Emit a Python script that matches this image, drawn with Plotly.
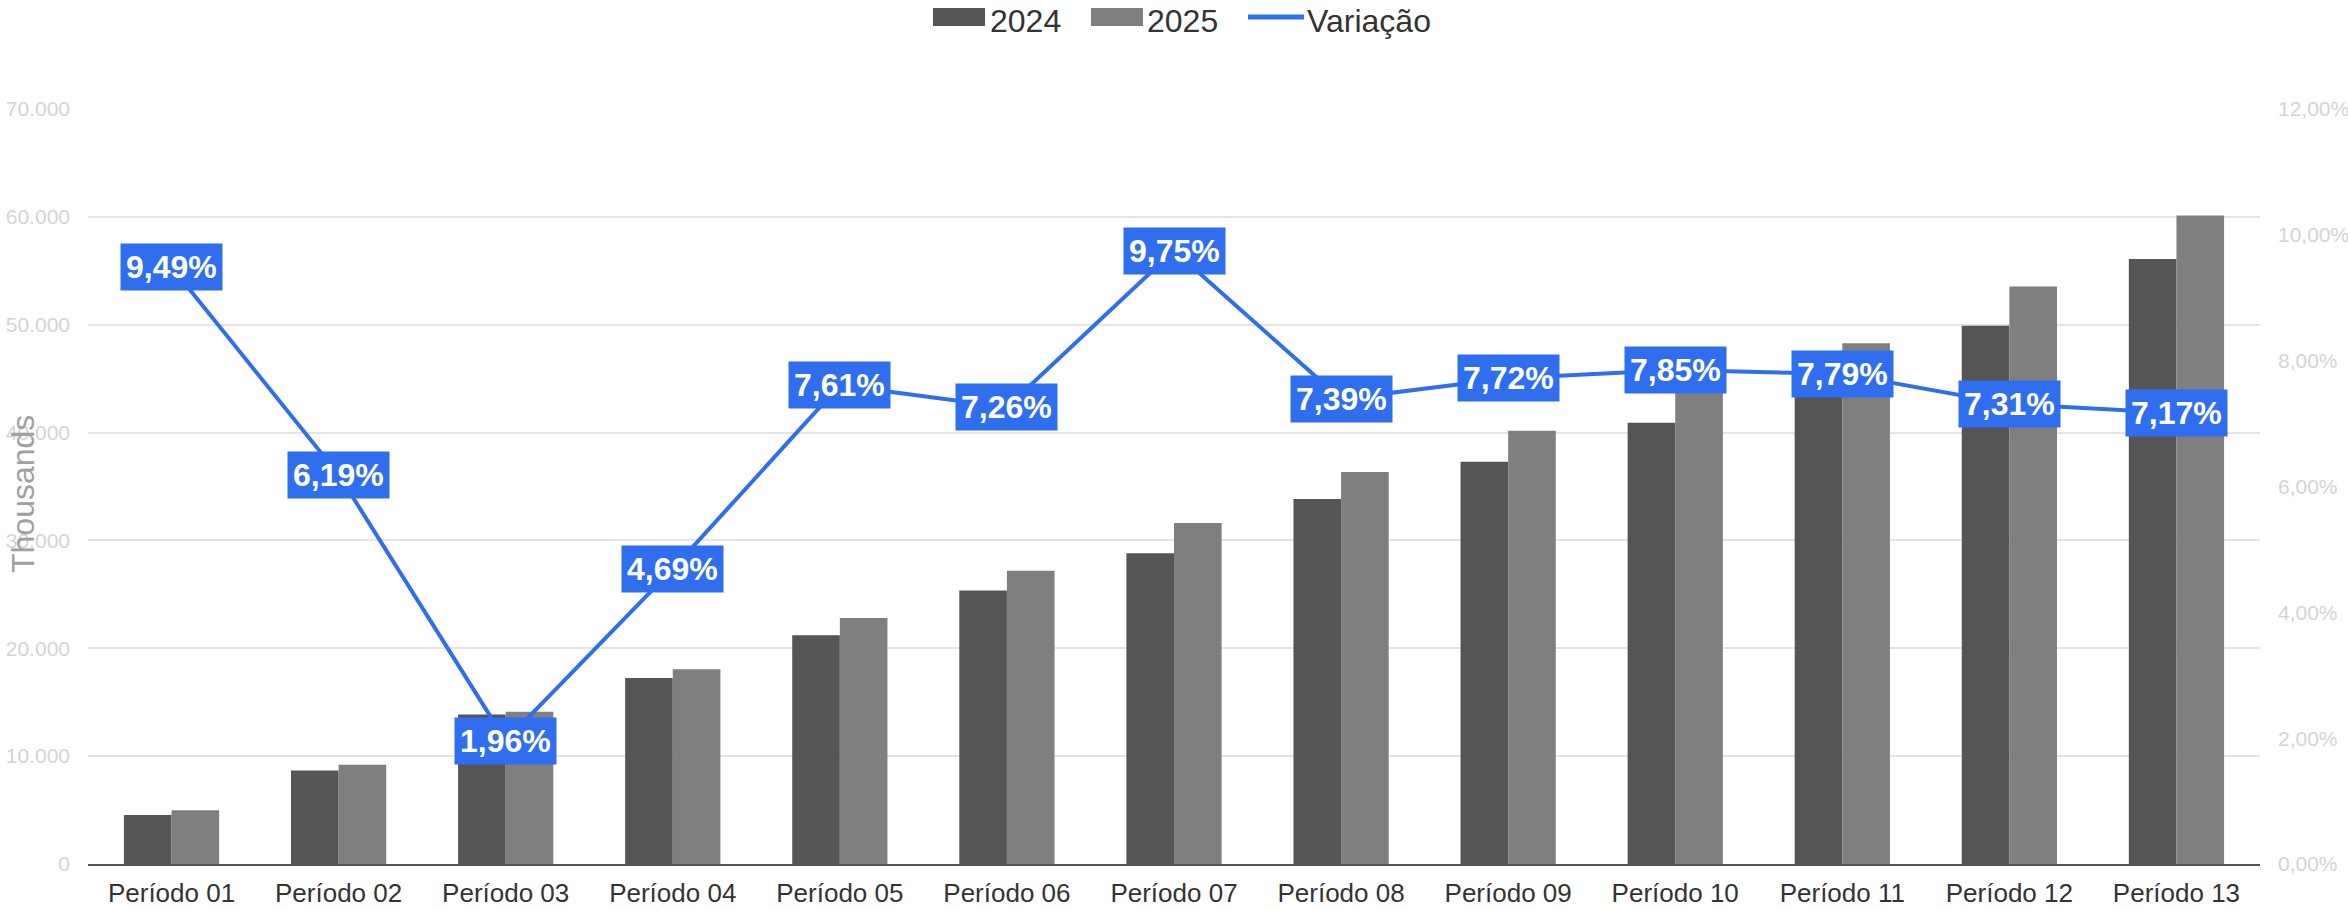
import plotly.graph_objects as go

# ── Data ──────────────────────────────────────────────────────────────────────
periods = [f"Período {i:02d}" for i in range(1, 14)]
values_2024 = [4550, 8670, 13850, 17250, 21200, 25350, 28800, 33850, 37300, 40900, 44800, 49900, 56100]
values_2025 = [4980, 9210, 14120, 18060, 22810, 27190, 31610, 36350, 40180, 44110, 48290, 53550, 60120]
variacao = [0.0949, 0.0619, 0.0196, 0.0469, 0.0761, 0.0726, 0.0975, 0.0739, 0.0772, 0.0785, 0.0779, 0.0731, 0.0717]
var_labels = ["9,49%", "6,19%", "1,96%", "4,69%", "7,61%", "7,26%", "9,75%", "7,39%",
              "7,72%", "7,85%", "7,79%", "7,31%", "7,17%"]

C24, C25, BLUE = "#555555", "#7f7f7f", "#2f6fef"
FONT = "Liberation Sans, Arial, sans-serif"
W, H = 2348, 911
M = dict(l=88, r=88, t=109, b=47)


def px(x):
    return (x - M["l"]) / (W - M["l"] - M["r"])


def py(y):
    return (H - M["b"] - y) / (H - M["t"] - M["b"])


fig = go.Figure()
fig.add_trace(go.Bar(x=periods, y=values_2024, name="2024", marker=dict(color=C24, line_width=0)))
fig.add_trace(go.Bar(x=periods, y=values_2025, name="2025", marker=dict(color=C25, line_width=0)))
fig.add_trace(go.Scatter(x=periods, y=variacao, name="Variação", mode="lines", yaxis="y2",
                         line=dict(color=BLUE, width=4)))

# value labels on the line
for p, v, t in zip(periods, variacao, var_labels):
    fig.add_annotation(x=p, y=v, xref="x", yref="y2", text=f"<b>{t}</b>", showarrow=False,
                       font=dict(family=FONT, size=32, color="white"),
                       bgcolor=BLUE, borderpad=5)

# ── Custom legend ─────────────────────────────────────────────────────────────
for x0, x1, c in [(933, 985, C24), (1091, 1143, C25)]:
    fig.add_shape(type="rect", xref="paper", yref="paper", x0=px(x0), x1=px(x1),
                  y0=py(26), y1=py(8), fillcolor=c, line_width=0)
fig.add_shape(type="line", xref="paper", yref="paper", x0=px(1248), x1=px(1304),
              y0=py(17), y1=py(17), line=dict(color=BLUE, width=5))
for x, t in [(988, "2024"), (1145, "2025"), (1305, "Variação")]:
    fig.add_annotation(x=px(x), y=py(21), xref="paper", yref="paper", text=t, showarrow=False,
                       xanchor="left", yanchor="middle",
                       font=dict(family=FONT, size=32, color="#333333"))

fig.add_annotation(x=px(23), y=py(494), xref="paper", yref="paper", text="Thousands",
                   textangle=-90, showarrow=False, xanchor="center", yanchor="middle",
                   font=dict(family=FONT, size=32, color="#a0a0a0"))

fig.update_layout(
    width=W, height=H, margin=dict(M, autoexpand=False),
    paper_bgcolor="white", plot_bgcolor="white",
    separators=",.",
    showlegend=False,
    barmode="group", bargap=0.43, bargroupgap=0,
    font=dict(family=FONT, color="#333333"),
    xaxis=dict(showgrid=False, showline=True, linecolor="#555555", linewidth=2, automargin=False,
               ticks="", ticklabelstandoff=5, tickfont=dict(size=26, color="#333333")),
    yaxis=dict(range=[0, 70000], dtick=10000, tickformat=",d", showgrid=True, automargin=False,
               gridcolor="#e5e5e5", gridwidth=2, zeroline=False, ticks="",
               ticklabelstandoff=17, tickfont=dict(size=21, color="#d4d4d4")),
    yaxis2=dict(range=[0, 0.12], dtick=0.02, tickformat=".2%", overlaying="y", side="right",
                showgrid=False, zeroline=False, ticks="", ticklabelstandoff=17, automargin=False,
                tickfont=dict(size=21, color="#d4d4d4")),
)

fig.write_html("out.html", config={"displayModeBar": False},
               post_script="document.body.style.margin='0';")
